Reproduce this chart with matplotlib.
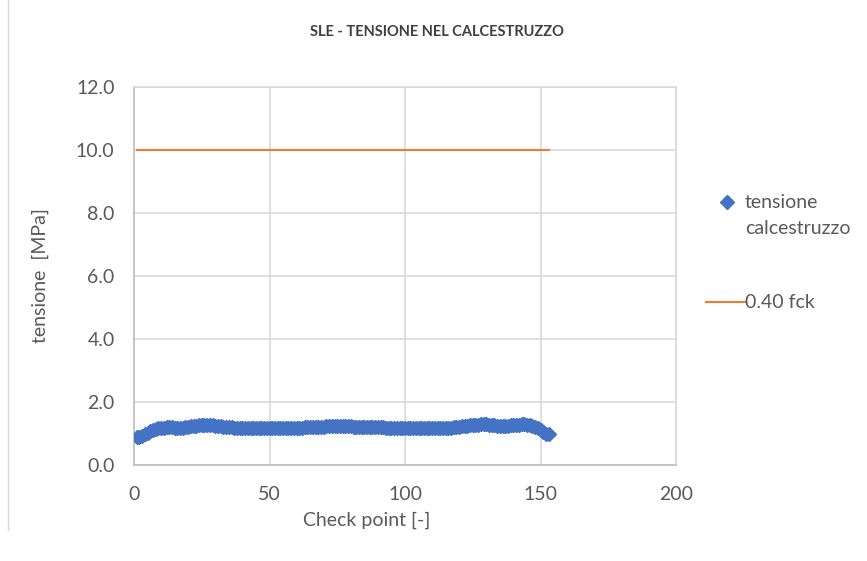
import matplotlib
matplotlib.use("Agg")
import matplotlib.pyplot as plt
from matplotlib.lines import Line2D

plt.rcParams["font.family"] = ["Lato", "DejaVu Sans"]

# ===== dati =====
check_point = list(range(1, 154))
tensione = [
    0.88, 0.90, 0.93,
    0.98, 1.03, 1.08, 1.12, 1.15, 1.17,
    1.18, 1.19, 1.20, 1.20, 1.20, 1.19, 1.19, 1.18, 1.19, 1.20, 1.21,
    1.23, 1.24, 1.25, 1.26, 1.27, 1.28, 1.28, 1.27, 1.26, 1.25,
    1.24, 1.23, 1.22, 1.21, 1.20, 1.20, 1.19, 1.19, 1.18, 1.18, 1.17, 1.17, 1.17, 1.16, 1.16,
    1.16, 1.16, 1.16, 1.16, 1.16, 1.16, 1.17, 1.17, 1.17, 1.17, 1.18, 1.18, 1.18, 1.18, 1.19,
    1.19, 1.19, 1.20, 1.20, 1.20, 1.21, 1.21, 1.22, 1.22, 1.22, 1.23, 1.23, 1.23, 1.23, 1.23,
    1.23, 1.23, 1.23, 1.23, 1.23, 1.22, 1.22, 1.22, 1.22, 1.22, 1.21, 1.21, 1.21, 1.21, 1.20,
    1.20, 1.20, 1.19, 1.19, 1.19, 1.18, 1.18, 1.17, 1.17, 1.17, 1.17, 1.16, 1.16, 1.16, 1.16,
    1.16, 1.16, 1.16, 1.16, 1.16, 1.16, 1.16, 1.16, 1.17, 1.17, 1.18, 1.19, 1.20, 1.21, 1.22,
    1.23, 1.24, 1.25, 1.26, 1.27, 1.28, 1.28, 1.29, 1.29, 1.29, 1.28, 1.27, 1.26, 1.25, 1.24,
    1.24, 1.24, 1.25, 1.26, 1.27, 1.28, 1.28, 1.29, 1.29, 1.28, 1.27, 1.25, 1.22, 1.17, 1.11,
    1.05, 1.00, 0.97,
]
limite = [10.0] * len(check_point)  # 0.40 fck

x_ticks = [0, 50, 100, 150, 200]
y_ticks = [0, 2, 4, 6, 8, 10, 12]

BLU = "#4472C4"
ARANCIO = "#ED7D31"
TESTO = "#595959"
GRIGLIA = "#D9D9D9"
FS = 14

# ===== grafico =====
fig = plt.figure(figsize=(8.67, 5.61), dpi=100)
ax = fig.add_axes([134 / 867, 1 - 465 / 561, (676 - 134) / 867, (465 - 87) / 561])

ax.plot(check_point, tensione, linestyle="none", marker="D", markersize=6.8,
        color=BLU, zorder=3)
ax.plot(check_point, limite, color=ARANCIO, linewidth=1.5, zorder=3)

ax.set_xlim(0, 200)
ax.set_ylim(0, 12)
ax.set_xticks(x_ticks)
ax.set_yticks(y_ticks)
ax.set_yticklabels([f"{v:.1f}" for v in y_ticks])
ax.tick_params(length=0, labelsize=FS, colors=TESTO)
ax.tick_params(axis="x", pad=15)
ax.tick_params(axis="y", pad=14)

ax.grid(True, color=GRIGLIA, linewidth=1.2, zorder=0)
ax.set_axisbelow(True)
for s in ["top", "right"]:
    ax.spines[s].set_color(GRIGLIA)
    ax.spines[s].set_linewidth(1.2)
for s in ["left", "bottom"]:
    ax.spines[s].set_color("#BFBFBF")
    ax.spines[s].set_linewidth(1.2)

# titolo e assi
fig.text(437 / 867, 1 - 32 / 561, "SLE - TENSIONE NEL CALCESTRUZZO", ha="center", va="center",
         fontsize=10.5, weight="bold", color="#404040")
fig.text(367 / 867, 1 - 520 / 561, "Check point [-]", ha="center", va="center",
         fontsize=FS, color=TESTO)
fig.text(40 / 867, 1 - 276 / 561, "tensione  [MPa]", ha="center", va="center",
         rotation=90, fontsize=FS, color=TESTO)

# legenda
fig.add_artist(Line2D([727 / 867], [1 - 202 / 561], linestyle="none", marker="D",
                      markersize=6.8, color=BLU))
fig.text(745 / 867, 1 - 202 / 561, "tensione", ha="left", va="center", fontsize=FS, color=TESTO)
fig.text(745 / 867, 1 - 228 / 561, "calcestruzzo", ha="left", va="center", fontsize=FS, color=TESTO)
fig.add_artist(Line2D([706 / 867, 745 / 867], [1 - 302 / 561, 1 - 302 / 561],
                      color=ARANCIO, linewidth=1.5))
fig.text(745 / 867, 1 - 302 / 561, "0.40 fck", ha="left", va="center", fontsize=FS, color=TESTO)

# bordo area grafico
fig.add_artist(Line2D([8 / 867, 8 / 867], [1 - 530 / 561, 1.0], color=GRIGLIA, linewidth=1.0))

fig.savefig("out.png", dpi=100)
plt.close(fig)
